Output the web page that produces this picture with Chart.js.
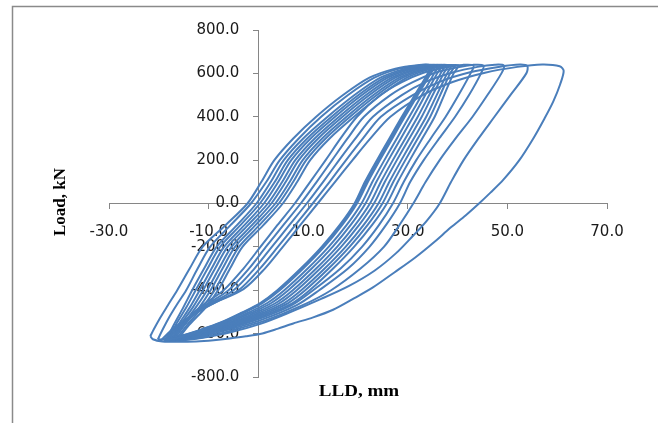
<!DOCTYPE html>
<html>
<head>
<meta charset="utf-8">
<script src="https://cdn.jsdelivr.net/npm/chart.js@4.4.0/dist/chart.umd.min.js"></script>
<style>
  html, body { margin: 0; padding: 0; background: #fff; }
  #chart { display: block; }
</style>
</head>
<body>
<canvas id="chart" width="658" height="423"></canvas>
<script>
// Axis ticks and titles
const xTicks = [-30, -10, 10, 30, 50, 70];
const yTicks = [-800, -600, -400, -200, 0, 200, 400, 600, 800];
const xTitle = 'LLD, mm';
const yTitle = 'Load, kN';

// Load cycles, points are [LLD (mm), load (kN)]
const cycle1 = [[-18.5,-628],[-17,-560],[-15.1,-480],[-13.3,-400],[-10.9,-300],[-8.4,-200],[-4.3,-100],[-0.4,0],[2.5,100],[5.1,200],[9,300],[13.9,400],[19.3,500],[24.5,580],[29.5,622],[33.5,638],[35.5,636],
    [34.6,600],[32,500],[29.4,400],[26.9,300],[24.4,200],[22,100],[19.8,0],[16.8,-100],[13.2,-200],[9,-300],[4.3,-400],[0.8,-460],[-3,-505],[-7.2,-550],[-11.5,-585],[-15,-610],[-17.3,-625],[-18.5,-628]];
const cycle2 = [[-18.2,-631],[-16.6,-560],[-14.5,-480],[-12.6,-400],[-10.2,-300],[-7.7,-200],[-3.6,-100],[0.3,0],[3.3,100],[5.9,200],[9.8,300],[14.7,400],[20.1,500],[25.3,580],[30.3,622],[34.3,638],[36.1,636],
    [35.3,600],[32.8,500],[30.3,400],[27.8,300],[25.3,200],[22.9,100],[20.7,0],[17.7,-100],[14.1,-200],[9.9,-300],[5.2,-400],[1.7,-460],[-2.2,-505],[-6.6,-550],[-11,-585],[-14.6,-610],[-17,-625],[-18.2,-631]];
const cycle3 = [[-17.9,-630],[-16.1,-560],[-13.8,-480],[-11.8,-400],[-9.4,-300],[-6.9,-200],[-2.8,-100],[1.1,0],[4,100],[6.6,200],[10.5,300],[15.4,400],[20.8,500],[26,580],[31,622],[35,638],[36.8,636],
    [35.9,600],[33.5,500],[31.1,400],[28.6,300],[26.1,200],[23.7,100],[21.5,0],[18.5,-100],[14.9,-200],[10.7,-300],[6,-400],[2.5,-460],[-1.5,-505],[-5.9,-550],[-10.5,-585],[-14.2,-610],[-16.8,-625],[-17.9,-630]];
const cycle4 = [[-17.6,-632],[-15.7,-560],[-13.2,-480],[-11.1,-400],[-8.7,-300],[-6.2,-200],[-2.1,-100],[1.9,0],[4.8,100],[7.4,200],[11.3,300],[16.2,400],[21.6,500],[26.8,580],[31.8,622],[35.8,638],[37.4,636],
    [36.6,600],[34.3,500],[32,400],[29.5,300],[27,200],[24.6,100],[22.4,0],[19.4,-100],[15.8,-200],[11.6,-300],[6.9,-400],[3.4,-460],[-0.7,-505],[-5.3,-550],[-10,-585],[-13.9,-610],[-16.5,-625],[-17.6,-632]];
const cycle5 = [[-17.3,-629],[-15.2,-560],[-12.6,-480],[-10.3,-400],[-7.9,-300],[-5.4,-200],[-1.3,-100],[2.6,0],[5.5,100],[8.1,200],[12,300],[16.9,400],[22.3,500],[27.5,580],[32.5,622],[36.5,638],[38,636],
    [37.2,600],[35,500],[32.8,400],[30.3,300],[27.8,200],[25.4,100],[23.2,0],[20.2,-100],[16.6,-200],[12.4,-300],[7.7,-400],[4.2,-460],[0.1,-505],[-4.7,-550],[-9.5,-585],[-13.5,-610],[-16.3,-625],[-17.3,-629]];
const cycle6 = [[-17,-630],[-14.8,-560],[-11.9,-480],[-9.6,-400],[-7.2,-300],[-4.7,-200],[-0.6,-100],[3.4,0],[6.3,100],[8.9,200],[12.8,300],[17.7,400],[23.1,500],[28.3,580],[33.3,622],[37.3,638],[38.7,636],
    [37.9,600],[35.8,500],[33.7,400],[31.2,300],[28.7,200],[26.3,100],[24.1,0],[21.1,-100],[17.5,-200],[13.3,-300],[8.6,-400],[5.1,-460],[0.8,-505],[-4,-550],[-9,-585],[-13.1,-610],[-16,-625],[-17,-630]];
const cycle7 = [[-16.6,-628],[-14.3,-560],[-11.3,-480],[-8.8,-400],[-6.4,-300],[-3.9,-200],[0.2,-100],[4.1,0],[7,100],[9.6,200],[13.5,300],[18.4,400],[23.8,500],[29,580],[34,622],[38,638],[39.4,636],
    [38.5,600],[36.5,500],[34.5,400],[32,300],[29.5,200],[27.1,100],[24.9,0],[21.9,-100],[18.3,-200],[14.1,-300],[9.4,-400],[5.9,-460],[1.6,-505],[-3.4,-550],[-8.4,-585],[-12.7,-610],[-15.8,-625],[-16.6,-628]];
const cycle8 = [[-16.2,-627],[-13.9,-560],[-10.6,-480],[-8.1,-400],[-5.7,-300],[-3.2,-200],[1,-100],[4.9,0],[7.8,100],[10.4,200],[14.3,300],[19.2,400],[24.6,500],[29.8,580],[34.8,622],[38.8,638],[40.2,636],
    [39.2,600],[37.3,500],[35.4,400],[32.9,300],[30.4,200],[28,100],[25.8,0],[22.8,-100],[19.2,-200],[15,-300],[10.3,-400],[6.8,-460],[2.4,-505],[-2.7,-550],[-7.9,-585],[-12.3,-610],[-15.5,-625],[-16.2,-627]];

// larger cycles, peaks at about 43, 45, 49, 54 and 61 mm
const bigCycleA = [[-17.5,-630],[-16.2,-590],[-14.2,-530],[-11.3,-470],[-7,-400],[-3,-300],[0.4,-200],[3.8,-100],[7.3,0],[10.4,100],[13.5,200],[16.5,300],[19.8,400],[24.5,500],[28.8,560],[33,602],[37.5,627],[41,639],[43.2,636],
    [42.6,600],[40.2,500],[37.6,400],[34.6,300],[31.7,200],[29.2,100],[27,0],[24.2,-100],[20.8,-200],[16.5,-300],[11,-400],[6.6,-470],[-0.8,-540],[-7.5,-585],[-12.6,-615],[-16.6,-628],[-17.5,-630]];
const bigCycleB = [[-17.8,-631],[-16.3,-590],[-14,-530],[-10.7,-470],[-6,-400],[-1.9,-300],[1.5,-200],[5,-100],[8.5,0],[11.7,100],[14.8,200],[17.9,300],[21.2,400],[26.5,500],[31,560],[35.5,603],[40,628],[43,639],[45.2,636],
    [44.7,600],[42.3,500],[39.5,400],[36.3,300],[33.2,200],[30.5,100],[28.4,0],[25.6,-100],[22.3,-200],[18,-300],[12.2,-400],[7.6,-470],[0.2,-540],[-6.5,-585],[-11.8,-615],[-16,-628],[-17.8,-631]];
const bigCycleC = [[-18.6,-632],[-16.8,-590],[-14,-530],[-10.2,-470],[-5,-400],[-0.8,-300],[2.7,-200],[6.2,-100],[9.7,0],[13,100],[16.2,200],[19.5,300],[23,400],[28.8,500],[33.5,560],[39,604],[44,630],[47.5,640],[49.3,636],
    [48.8,600],[46,500],[43,400],[39.6,300],[36.4,200],[33.6,100],[31.1,0],[28.3,-100],[25.2,-200],[20.5,-300],[14.6,-400],[8.8,-470],[1.3,-540],[-5.3,-585],[-10.5,-615],[-15.5,-630],[-18.6,-632]];
const bigCycleD = [[-19,-630],[-17,-585],[-13.8,-525],[-9.5,-465],[-4,-400],[0.3,-300],[3.9,-200],[7.4,-100],[10.9,0],[14.3,100],[17.6,200],[21,300],[24.6,400],[31,500],[36.5,562],[42.5,605],[48.5,631],[52.5,641],[54,634],
    [53.8,600],[50.6,500],[47.4,400],[44.2,300],[41.2,200],[38.7,100],[36.4,0],[33.8,-80],[31,-150],[27.6,-230],[23.3,-310],[18.2,-380],[12.6,-440],[6.2,-503],[0.4,-555],[-5.8,-595],[-11.5,-620],[-16.5,-633],[-19,-630]];
const bigCycleE = [[-19.6,-632],[-17.5,-585],[-14,-525],[-9,-460],[-3,-395],[1.3,-300],[4.9,-200],[8.4,-100],[11.9,0],[15.4,100],[18.9,200],[22.5,300],[26.5,400],[33,500],[39,560],[45.5,603],[52,630],[57,641],[60.5,633],[61.3,612],
    [60.6,550],[59.2,470],[57.4,390],[55.2,300],[52.4,200],[49.2,110],[46.6,50],[44.3,0],[41.6,-55],[38.6,-111],[35.2,-180],[31.5,-249],[27.3,-318],[23,-387],[19,-440],[15,-490],[11,-525],[7,-553],[3.8,-578],[0.8,-599],[-2.5,-612],[-5.8,-622],[-9,-630],[-12.5,-636],[-16,-638],[-19.3,-636],[-21.2,-626],[-21.7,-612]];

// reloading after the deepest negative peak
const outerRun1 = [[-21.7,-612],[-21,-580],[-19.8,-530],[-18.2,-470],[-16.3,-400],[-13.8,-300],[-11.2,-200],[-6.6,-100],[-2.2,0],[0.6,100],[3.2,200],[7,300],[11.6,400],[17,500],[22.3,580],[27.5,622],[32,638],[34.5,637],
    [34,600],[31.4,500],[28.8,400],[26.3,300],[23.8,200],[21.4,100],[19.3,0],[16.3,-100],[12.7,-200],[8.5,-300],[3.8,-400],[0.3,-460],[-3.5,-505],[-7.7,-550],[-12,-585],[-15.5,-610],[-17.8,-625],[-19,-629]];
const outerRun2 = [[-20.2,-627],[-19.2,-580],[-17.8,-520],[-16.2,-460],[-14.5,-400],[-12.2,-300],[-9.7,-200],[-5.6,-100],[-1.5,0],[1.6,100],[4.3,200],[8.1,300],[12.6,400],[18,500],[23.3,580],[28.3,622],[32.6,638],[34.8,636],
    [34.3,600],[31.7,500],[29.1,400],[26.6,300],[24.1,200],[21.7,100],[19.5,0],[16.5,-100],[12.9,-200],[8.7,-300],[4,-400],[0.5,-460],[-3.3,-505],[-7.5,-550],[-11.8,-585],[-15.3,-610],[-17.6,-625],[-20.2,-627]];

const allCycles = [cycle1, cycle2, cycle3, cycle4, cycle5, cycle6, cycle7, cycle8,
    bigCycleA, bigCycleB, bigCycleC, bigCycleD, bigCycleE, outerRun1, outerRun2];

const lineColor = '#4a7ebb';
const axisColor = '#868686';
const tickFont = { family: 'DejaVu Sans', size: 15 };

// outer frame and the two axis titles
const framePlugin = {
    id: 'frame',
    beforeDraw(chart) {
        const ctx = chart.ctx;
        ctx.save();
        ctx.strokeStyle = '#8a8a8a';
        ctx.lineWidth = 1.5;
        ctx.beginPath();
        ctx.moveTo(12.5, 423);
        ctx.lineTo(12.5, 6.5);
        ctx.lineTo(658, 6.5);
        ctx.stroke();
        ctx.restore();
    },
    afterDraw(chart) {
        const ctx = chart.ctx;
        ctx.save();
        ctx.fillStyle = '#000';
        ctx.textAlign = 'center';
        ctx.textBaseline = 'middle';
        ctx.font = 'bold 17px "Liberation Serif"';
        ctx.translate(359, 392);
        ctx.scale(1.12, 1);
        ctx.fillText(xTitle, 0, 0);
        ctx.restore();

        ctx.save();
        ctx.fillStyle = '#000';
        ctx.textAlign = 'center';
        ctx.textBaseline = 'middle';
        ctx.font = 'bold 17px "Liberation Serif"';
        ctx.translate(61, 202);
        ctx.rotate(-Math.PI / 2);
        ctx.fillText(yTitle, 0, 0);
        ctx.restore();
    }
};

new Chart(document.getElementById('chart'), {
    type: 'scatter',
    data: {
        datasets: allCycles.map(c => ({
            data: c.map(p => ({ x: p[0], y: p[1] })),
            showLine: true,
            borderColor: lineColor,
            borderWidth: 2,
            pointRadius: 0,
            tension: 0.3,
            fill: false
        }))
    },
    options: {
        responsive: false,
        animation: false,
        events: [],
        layout: { padding: { left: 109, right: 51, top: 30, bottom: 46 } },
        plugins: {
            legend: { display: false },
            tooltip: { enabled: false }
        },
        scales: {
            x: {
                type: 'linear',
                position: { y: 0 },
                min: -30,
                max: 70,
                afterBuildTicks: scale => { scale.ticks = xTicks.map(v => ({ value: v })); },
                grid: { drawOnChartArea: false, color: axisColor, tickLength: 5 },
                border: { color: axisColor, width: 1 },
                ticks: {
                    padding: 15,
                    color: '#1a1a1a',
                    font: tickFont,
                    maxRotation: 0,
                    autoSkip: false,
                    callback: v => Number(v).toFixed(1)
                }
            },
            y: {
                type: 'linear',
                position: { x: 0 },
                min: -800,
                max: 800,
                afterBuildTicks: scale => { scale.ticks = yTicks.map(v => ({ value: v })); },
                grid: { drawOnChartArea: false, color: axisColor, tickLength: 5 },
                border: { color: axisColor, width: 1 },
                ticks: {
                    color: '#1a1a1a',
                    font: tickFont,
                    autoSkip: false,
                    callback: v => Number(v).toFixed(1) + '    '
                }
            }
        }
    },
    plugins: [framePlugin]
});
</script>
</body>
</html>
